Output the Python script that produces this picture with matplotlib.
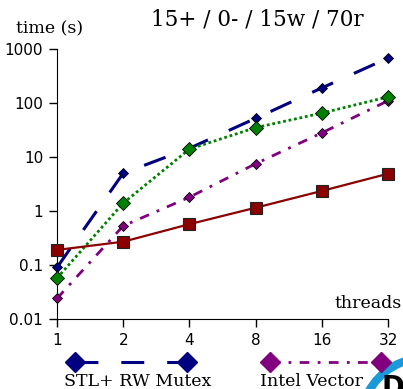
#Time per thread count, log-log chart with 4 lock implementations
import matplotlib.pyplot as plt
import matplotlib.patches as mpatches
from matplotlib.lines import Line2D
import numpy as np

threads = [1, 2, 4, 8, 16, 32]
thread_labels = ['1', '2', '4', '8', '16', '32']

stl_rw_mutex = [0.09, 5.0, 14.5, 52, 190, 680]
green_series = [0.057, 1.4, 14, 35, 65, 130]
intel_vector = [0.024, 0.53, 1.8, 7.5, 28, 110]
red_series = [0.19, 0.27, 0.57, 1.15, 2.35, 4.9]

title = '15+ / 0- / 15w / 70r'

navy = '#000080'
green = '#008000'
purple = '#800080'
darkred = '#8b0000'

fig = plt.figure(figsize=(4.03, 3.89), dpi=100)
ax = fig.add_axes([57/403, 1-319/389, 331/403, 270/389])

ax.plot(threads, stl_rw_mutex, color=navy, lw=2.2, dashes=(7.5, 7.5), dash_capstyle='butt',
        marker='D', ms=5.5, mfc=navy, mec='black', mew=0.6, clip_on=False, zorder=3)
ax.plot(threads, green_series, color=green, lw=2, dashes=(1, 1), dash_capstyle='butt',
        marker='D', ms=7, mfc=green, mec='black', mew=0.6, clip_on=False, zorder=4)
ax.plot(threads, intel_vector, color=purple, lw=2, dashes=(3.5, 3, 1, 3), dash_capstyle='butt',
        marker='D', ms=5.5, mfc=purple, mec='black', mew=0.6, clip_on=False, zorder=3)
ax.plot(threads, red_series, color=darkred, lw=1.6, linestyle='-',
        marker='s', ms=8, mfc=darkred, mec='#222222', mew=0.8, clip_on=False, zorder=5)

ax.set_xscale('log', base=2)
ax.set_yscale('log')
ax.set_xlim(1, 32)
ax.set_ylim(0.01, 1000)
ax.set_xticks(threads)
ax.set_xticklabels(thread_labels)
ax.set_yticks([0.01, 0.1, 1, 10, 100, 1000])
ax.set_yticklabels(['0.01', '0.1', '1', '10', '100', '1000'])
ax.minorticks_off()
ax.tick_params(labelsize=11, length=6, width=1, direction='out', pad=4)
ax.spines['top'].set_visible(False)
ax.spines['right'].set_visible(False)
ax.set_facecolor('none')

serif = 'DejaVu Serif'
fig.text(50/403, 1-29/389, 'time (s)', family=serif, fontsize=12.5, ha='center', va='center')
fig.text(257/403, 1-20/389, title, family=serif, fontsize=15.5, ha='center', va='center')
fig.text(402/403, 1-304/389, 'threads', family=serif, fontsize=12.5, ha='right', va='center')

#legend drawn by hand, labels sit under the line samples
fig.add_artist(Line2D([75/403, 187/403], [1-362/389]*2, color=navy, lw=2.2, dashes=(7.5, 7.5),
                      marker='D', ms=10, mfc=navy, mec=navy, markevery=[0, 1]))
fig.text(138/403, 1-381/389, 'STL+ RW Mutex', family=serif, fontsize=12.5, ha='center', va='center')
fig.add_artist(Line2D([270/403, 381/403], [1-362/389]*2, color=purple, lw=2, dashes=(3.5, 3, 1, 3),
                      marker='D', ms=10, mfc=purple, mec=purple, markevery=[0, 1]))
fig.text(260/403, 1-381/389, 'Intel Vector', family=serif, fontsize=12.5, ha='left', va='center')

#logo in the corner, partly outside the picture
fig.add_artist(mpatches.Arc((425/403, 1-422/389), 128/403, 128/389, theta1=95, theta2=160,
                            color='#1a9ad6', lw=6, transform=fig.transFigure))
fig.text(393/403, 1-402/389, 'D', family='DejaVu Sans', fontsize=20, fontweight='bold',
         ha='center', va='bottom', color='black')

fig.savefig('out.png', dpi=100)
